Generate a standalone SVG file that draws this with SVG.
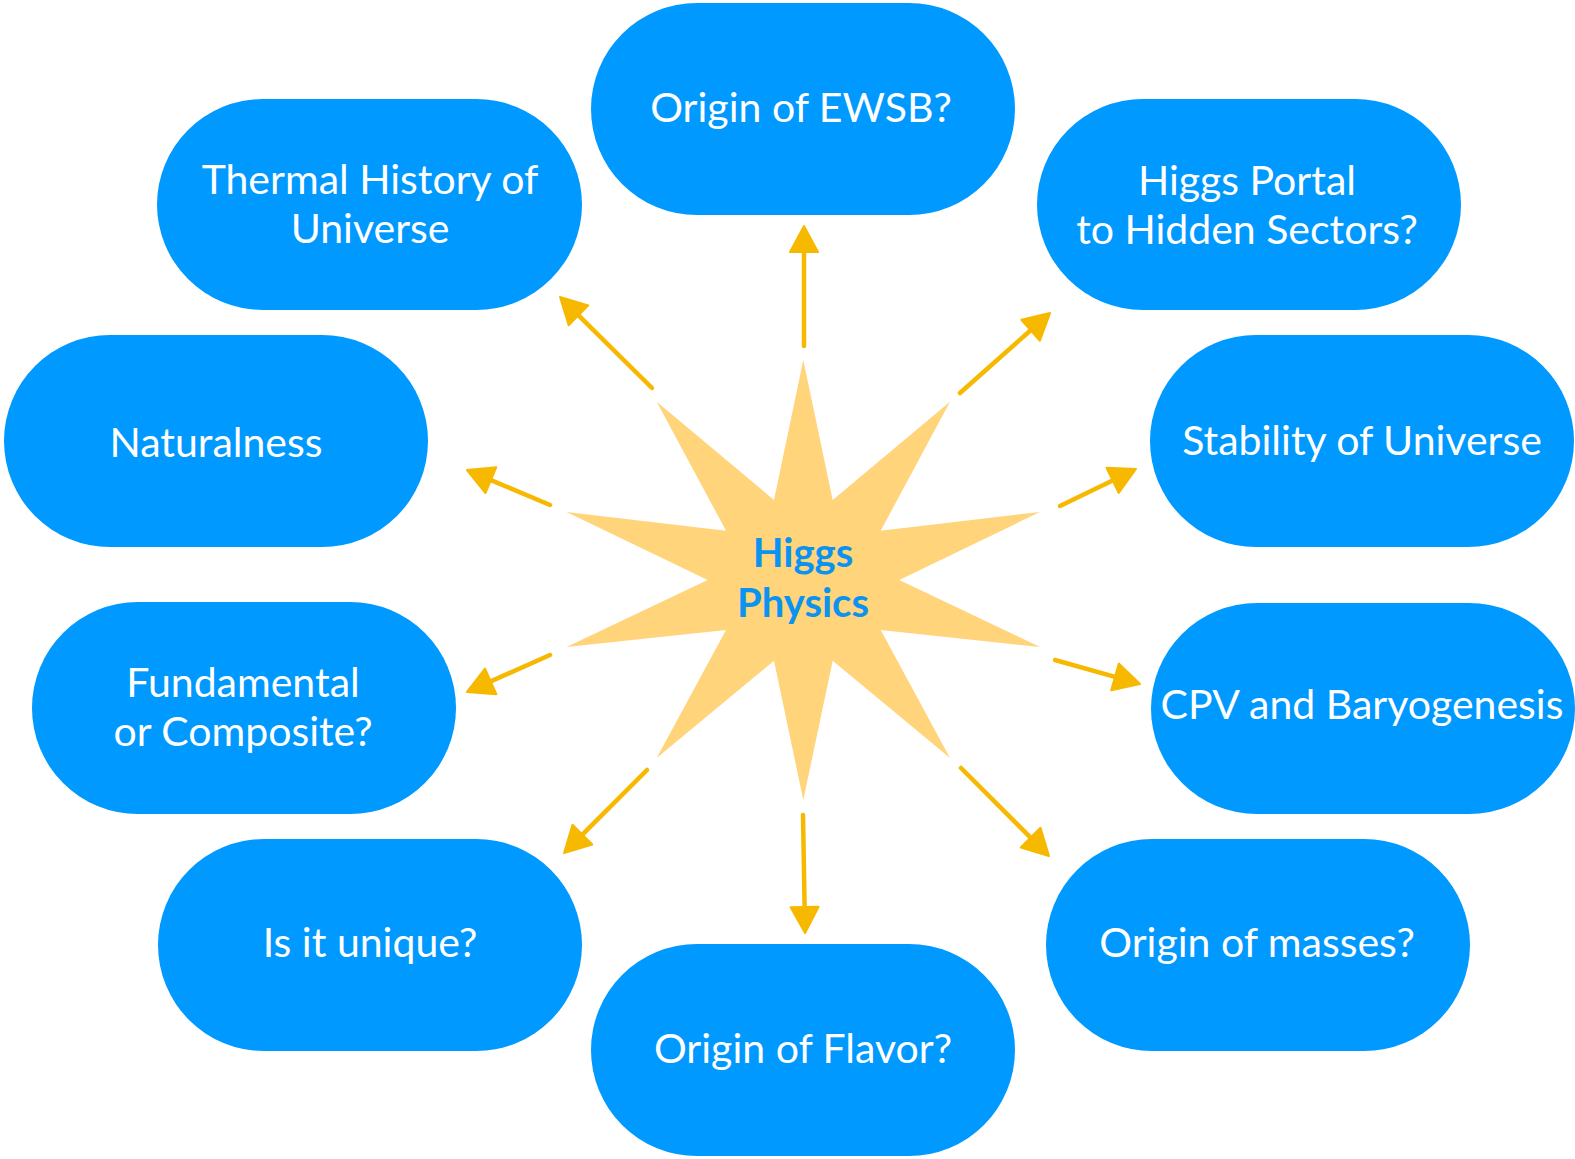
<svg xmlns="http://www.w3.org/2000/svg" width="1575" height="1159" viewBox="0 0 1575 1159">
<defs>
<style>
.node rect{fill:#0099FF;}
.node text{fill:#FFFFFF;font-family:Lato,"Open Sans",sans-serif;font-size:41px;text-anchor:middle;}
.conn line{stroke:#F7B800;stroke-width:4.5;stroke-linecap:round;marker-end:url(#ah);}
.star{fill:#FFD47A;}
.title{fill:#0A93F0;font-family:Lato,"Open Sans",sans-serif;font-weight:700;font-size:40px;text-anchor:middle;}
</style>
<marker id="ah" viewBox="-4 -18 36 36" markerWidth="36" markerHeight="36" refX="0" refY="0" orient="auto" markerUnits="userSpaceOnUse">
<path d="M0,-14 L26,0 L0,14 Z" fill="#F7B800" stroke="#F7B800" stroke-width="2" stroke-linejoin="round"/>
</marker>
</defs>
<rect width="1575" height="1159" fill="#FFFFFF"/>

<g id="center">
<polygon class="star" points="803.3,360 832.7,500 950,401.7 880.7,530.7 1040,512 899.3,580 1040,647 880.7,630 950,758 832.7,660.7 803.3,800 774,660.7 656.7,758 726,630 566.5,647 707.7,580 566.5,512 726,530.7 656.7,401.7 774,500"/>
<text class="title" x="803" y="567">Higgs</text>
<text class="title" x="803" y="617">Physics</text>
</g>

<g id="connectors" class="conn">
<line x1="804" y1="346" x2="804" y2="252"/>
<line x1="652" y1="388" x2="578.5" y2="315.3"/>
<line x1="960" y1="393" x2="1030.6" y2="330.3"/>
<line x1="1060" y1="506" x2="1112.6" y2="480.4"/>
<line x1="1055" y1="660" x2="1115" y2="676.9"/>
<line x1="961" y1="768" x2="1030.6" y2="837.6"/>
<line x1="803" y1="815" x2="804.6" y2="907"/>
<line x1="647" y1="770" x2="582.4" y2="834.6"/>
<line x1="550" y1="655" x2="490.7" y2="681.4"/>
<line x1="550" y1="505" x2="490.9" y2="480.1"/>
</g>

<g id="ewsb" class="node"><rect x="591" y="3" width="424" height="212" rx="106"/><text x="801" y="122">Origin of EWSB?</text></g>
<g id="thermal" class="node"><rect x="157" y="99" width="425" height="211" rx="106"/><text x="370" y="194">Thermal History of</text><text x="370" y="243">Universe</text></g>
<g id="portal" class="node"><rect x="1037" y="99" width="424" height="211" rx="106"/><text x="1247" y="195">Higgs Portal</text><text x="1247" y="244">to Hidden Sectors?</text></g>
<g id="naturalness" class="node"><rect x="4" y="335" width="424" height="212" rx="106"/><text x="216" y="457">Naturalness</text></g>
<g id="stability" class="node"><rect x="1150" y="335" width="424" height="212" rx="106"/><text x="1362" y="455">Stability of Universe</text></g>
<g id="fundamental" class="node"><rect x="32" y="602" width="424" height="212" rx="106"/><text x="243" y="697">Fundamental</text><text x="243" y="746">or Composite?</text></g>
<g id="cpv" class="node"><rect x="1151" y="603" width="424" height="211" rx="106"/><text x="1362" y="719">CPV and Baryogenesis</text></g>
<g id="unique" class="node"><rect x="158" y="839" width="424" height="212" rx="106"/><text x="370" y="957">Is it unique?</text></g>
<g id="masses" class="node"><rect x="1046" y="839" width="424" height="212" rx="106"/><text x="1257" y="957">Origin of masses?</text></g>
<g id="flavor" class="node"><rect x="591" y="944" width="424" height="212" rx="106"/><text x="803" y="1063">Origin of Flavor?</text></g>
</svg>
